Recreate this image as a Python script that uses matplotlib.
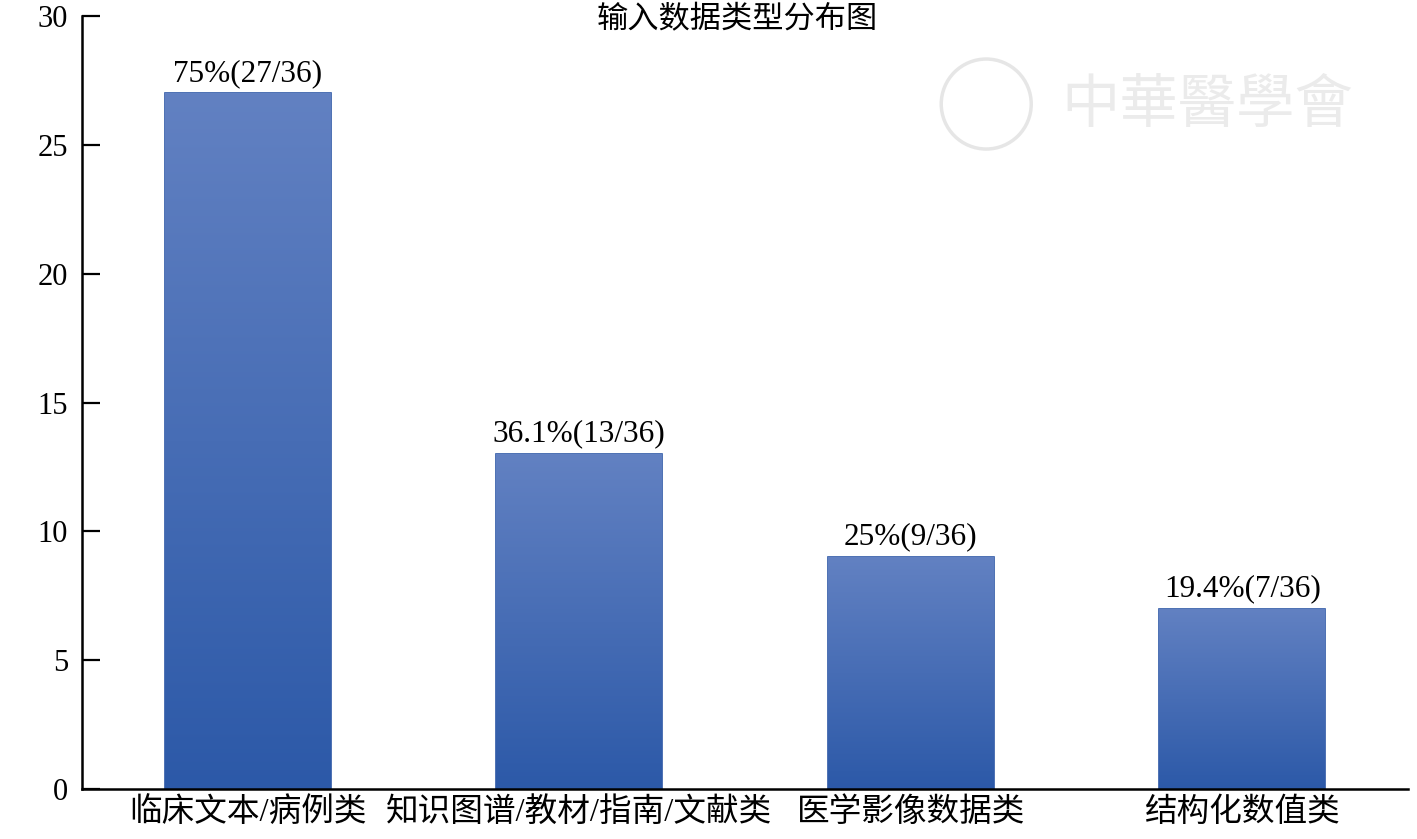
import numpy as np
import matplotlib
matplotlib.use("Agg")
import matplotlib.pyplot as plt
from matplotlib.colors import LinearSegmentedColormap
from matplotlib.patches import Ellipse

plt.rcParams['font.family'] = ['Liberation Serif', 'Noto Sans CJK SC', 'DejaVu Sans']

# data
categories = ["临床文本/病例类", "知识图谱/教材/指南/文献类", "医学影像数据类", "结构化数值类"]
counts = [27, 13, 9, 7]
labels = ["75%(27/36)", "36.1%(13/36)", "25%(9/36)", "19.4%(7/36)"]
title = "输入数据类型分布图"

fig = plt.figure(figsize=(14.17, 8.39), dpi=100)
ax = fig.add_axes([0.0579, 0.0596, 0.9357, 0.9213])

x = np.arange(len(categories))
bars = ax.bar(x, counts, width=0.5, color="#3f66b4", edgecolor="#2d58a6", linewidth=1.2)

# vertical gradient on each bar (lighter top, darker bottom)
cmap = LinearSegmentedColormap.from_list("bl", ["#2c59a8", "#6281c2"])
grad = np.linspace(0, 1, 256).reshape(-1, 1)
for b in bars:
    x0, y0 = b.get_x(), b.get_y()
    w, h = b.get_width(), b.get_height()
    im = ax.imshow(grad, cmap=cmap, origin="lower", aspect="auto",
                   extent=[x0, x0 + w, y0, y0 + h], zorder=b.get_zorder())
    im.set_clip_path(b)

for xi, c, lab in zip(x, counts, labels):
    ax.annotate(lab, (xi, c), xytext=(0, 4), textcoords="offset points",
                ha="center", va="bottom", fontsize=22.5)

ax.set_xlim(-0.5, 3.5)
ax.set_ylim(0, 30)
ax.set_yticks(range(0, 31, 5))
ax.set_xticks(x)
ax.set_xticklabels(categories, fontsize=23.5)
ax.tick_params(axis="y", direction="in", length=13, width=1.6, labelsize=22, pad=10)
ax.tick_params(axis="x", length=0, pad=6)
for s in ["top", "right"]:
    ax.spines[s].set_visible(False)
for s in ["left", "bottom"]:
    ax.spines[s].set_linewidth(1.8)

fig.text(0.52, 0.993, title, ha="center", va="top", fontsize=22.5)

# faint watermark
fig.text(0.749, 0.872, "中華醫學會", fontsize=42, color="#ebebeb", ha="left", va="center")
fig.patches.append(Ellipse((0.696, 0.876), 90 / 1417, 90 / 839, transform=fig.transFigure,
                           fill=False, edgecolor="#e6e6e6", linewidth=2.5))

fig.savefig("out.png", dpi=100)
